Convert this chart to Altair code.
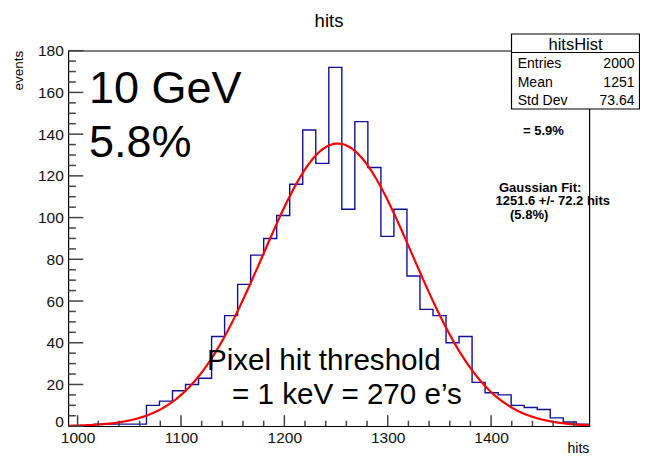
import altair as alt
import numpy as np
import pandas as pd

# ---------------- data ----------------
BIN_START = 991.0
BIN_WIDTH = 12.6
COUNTS = [0, 0, 1, 1, 1, 1, 10, 12, 17, 20,
          23, 43, 53, 68, 82, 90, 101, 116, 142, 126,
          172, 104, 146, 124, 91, 104, 72, 56, 53, 40,
          43, 21, 16, 15, 10, 9, 8, 4, 2, 1]
X_MIN, X_MAX = 991.0, 1495.0
Y_MIN, Y_MAX = 0.0, 180.0

FIT_MEAN = 1251.6
FIT_SIGMA = 72.2
FIT_AMP = 135.5

X_MAJOR = [1000, 1100, 1200, 1300, 1400]
X_MINOR = [v for v in range(1020, 1500, 20) if v % 100 != 0]
Y_MAJOR = list(range(0, 181, 20))
Y_MINOR = [v for v in range(5, 180, 5) if v % 20 != 0]

# ---------------- layout ----------------
W, H = 521, 375.5
OX, OY = 68.3, 50.7   # page position of plot origin
FONT = "Liberation Sans"

edges = [BIN_START + BIN_WIDTH * i for i in range(len(COUNTS) + 1)]
hist_df = pd.DataFrame({"x": edges, "y": COUNTS + [COUNTS[-1]]})

fx = np.linspace(X_MIN, X_MAX, 253)
fit_df = pd.DataFrame({"x": fx,
                       "y": FIT_AMP * np.exp(-0.5 * ((fx - FIT_MEAN) / FIT_SIGMA) ** 2)})

xs = alt.Scale(domain=[X_MIN, X_MAX], nice=False, zero=False)
ys = alt.Scale(domain=[Y_MIN, Y_MAX], nice=False, zero=False)

xaxis = alt.Axis(values=X_MAJOR, format="d", ticks=False, tickSize=0, domain=False, grid=False,
                 labelFont=FONT, labelFontSize=15.5, labelColor="#111",
                 labelPadding=4, labelBaseline="top", title=None, labelFlush=False)
yaxis = alt.Axis(values=Y_MAJOR, format="d", ticks=False, tickSize=0, domain=False, grid=False,
                 labelFont=FONT, labelFontSize=15.5, labelColor="#111",
                 labelPadding=5, title=None, labelFlush=False,
                 labelOffset={"condition": {"test": "datum.value == 0", "value": -5}, "value": 0})

base = alt.Chart(hist_df)

hist = base.mark_line(interpolate="step-after", color="#10109a", strokeWidth=1.4, clip=True).encode(
    x=alt.X("x:Q", scale=xs, axis=xaxis),
    y=alt.Y("y:Q", scale=ys, axis=yaxis),
)

fit = alt.Chart(fit_df).mark_line(color="#ff0000", strokeWidth=2.2, clip=True).encode(
    x=alt.X("x:Q", scale=xs), y=alt.Y("y:Q", scale=ys))

# inward ticks
tick_color = "#444"
ymaj = alt.Chart(pd.DataFrame({"v": Y_MAJOR})).mark_rule(color=tick_color, strokeWidth=1.5).encode(
    y=alt.Y("v:Q", scale=ys), x=alt.value(0), x2=alt.value(15))
ymin = alt.Chart(pd.DataFrame({"v": Y_MINOR})).mark_rule(color=tick_color, strokeWidth=1.5).encode(
    y=alt.Y("v:Q", scale=ys), x=alt.value(0), x2=alt.value(7.5))
xmaj = alt.Chart(pd.DataFrame({"v": X_MAJOR})).mark_rule(color=tick_color, strokeWidth=1.5).encode(
    x=alt.X("v:Q", scale=xs), y=alt.value(H), y2=alt.value(H - 11))
xmin = alt.Chart(pd.DataFrame({"v": X_MINOR})).mark_rule(color=tick_color, strokeWidth=1.5).encode(
    x=alt.X("v:Q", scale=xs), y=alt.value(H), y2=alt.value(H - 5.5))


def txt(s, px, py, size, align="left", bold=False, baseline="alphabetic", angle=0, color="black"):
    kw = dict(text=s, font=FONT, fontSize=size, align=align, baseline=baseline,
              color=color, clip=False)
    if bold:
        kw["fontWeight"] = "bold"
    if angle:
        kw["angle"] = angle
    return alt.Chart(pd.DataFrame({"a": [0]})).mark_text(**kw).encode(
        x=alt.value(px - OX), y=alt.value(py - OY))


texts = [
    txt("hits", 329, 27, 18.5, align="center"),
    txt("events", 23, OY, 13.5, align="right", angle=270),
    txt("hits", 589.3, 453, 14, align="right"),
    txt("10 GeV", 89, 103, 45),
    txt("5.8%", 89, 157, 45),
    txt("Pixel hit threshold", 207, 370, 29.6),
    txt("= 1 keV = 270 e\u2019s", 232, 403.5, 29.6),
    txt("= 5.9%", 523, 135, 13, bold=True),
    txt("Gaussian Fit:", 499, 191.7, 13, bold=True),
    txt("1251.6 +/- 72.2 hits", 495.5, 205.3, 13, bold=True),
    txt("(5.8%)", 510, 218.5, 13, bold=True),
]

# stats box
BX0, BX1, BY0, BY1, BSEP = 511.5, 639.5, 34, 109, 52.5
box = alt.Chart(pd.DataFrame({"a": [0]})).mark_rect(
    fill="white", stroke="black", strokeWidth=1.2, clip=False).encode(
    x=alt.value(BX0 - OX), x2=alt.value(BX1 - OX), y=alt.value(BY0 - OY), y2=alt.value(BY1 - OY))
sep = alt.Chart(pd.DataFrame({"a": [0]})).mark_rule(color="black", strokeWidth=1.2, clip=False).encode(
    x=alt.value(BX0 - OX), x2=alt.value(BX1 - OX), y=alt.value(BSEP - OY))

STAT_NAMES = ["Entries", "Mean", "Std Dev"]
STAT_VALUES = ["2000", "1251", "73.64"]
STAT_BASE = [68.3, 86.7, 105]
stats = [txt("hitsHist", (BX0 + BX1) / 2, 50, 16.5, align="center")]
for n, v, b in zip(STAT_NAMES, STAT_VALUES, STAT_BASE):
    stats.append(txt(n, 517.7, b, 14))
    stats.append(txt(v, 634.5, b, 14, align="right"))

chart = alt.layer(hist, fit, ymaj, ymin, xmaj, xmin, *texts, box, sep, *stats).properties(
    width=W, height=H,
    autosize=alt.AutoSizeParams(type="none"),
    padding={"left": OX - 8, "top": OY - 8, "right": 640 - OX - W,
             "bottom": 447 - (OY - 8) - H},
    background="white",
).configure_view(stroke="black", strokeWidth=1.2)

chart.save("out.html", embed_options={"renderer": "svg", "actions": False})
